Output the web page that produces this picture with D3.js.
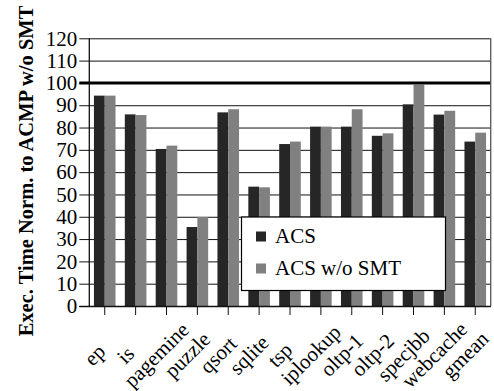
<!DOCTYPE html>
<html>
<head>
<meta charset="utf-8">
<script src="https://cdn.jsdelivr.net/npm/d3@7"></script>
<style>
html,body{margin:0;padding:0;background:#fff;}
svg{display:block;}
text{font-family:"Liberation Serif","Times New Roman",serif;fill:#000;}
</style>
</head>
<body>
<svg id="chart" width="494" height="391"></svg>
<script>
const categories = ["ep","is","pagemine","puzzle","qsort","sqlite","tsp","iplookup","oltp-1","oltp-2","specjbb","webcache","gmean"];
const seriesNames = ["ACS","ACS w/o SMT"];
const acs     = [94.3, 85.9, 70.4, 35.4, 86.8, 53.5, 72.6, 80.4, 80.4, 76.3, 90.4, 85.8, 73.7];
const acsNoSmt = [94.3, 85.6, 71.9, 39.9, 88.2, 53.2, 73.7, 80.4, 88.2, 77.4, 99.2, 87.5, 77.7];
const yTicks = [0,10,20,30,40,50,60,70,80,90,100,110,120];
const colors = ["#262626","#808080"];

const svg = d3.select("#chart");
const pL = 89.3, pR = 490.7, pT = 38.3, pB = 306;

const x0 = d3.scaleBand().domain(categories).range([pL, pR]).padding(0);
const x1 = d3.scaleBand().domain(seriesNames).range([0, x0.bandwidth()]).paddingInner(0).paddingOuter(0.43);
const y = d3.scaleLinear().domain([0,120]).range([pB, pT]);

// gridlines + y ticks (extend left as tick marks)
const yAxis = d3.axisLeft(y).tickValues(yTicks).tickSize(-(pR - pL)).tickSizeOuter(0).tickPadding(12).tickFormat(d3.format("d"));
const gy = svg.append("g").attr("transform", `translate(${pL},0)`).call(yAxis);
gy.select(".domain").remove();
gy.selectAll(".tick line").attr("x1", -10).attr("stroke", "#111").attr("stroke-width", 1);
gy.selectAll(".tick text").style("font-size", "21px").attr("fill", "#000");

// bars
const groups = svg.append("g").selectAll("g").data(categories).join("g")
  .attr("transform", d => `translate(${x0(d)},0)`);
groups.selectAll("rect").data((d, i) => [
  {s: seriesNames[0], v: acs[i]},
  {s: seriesNames[1], v: acsNoSmt[i]}
]).join("rect")
  .attr("x", d => x1(d.s))
  .attr("width", x1.bandwidth())
  .attr("y", d => y(d.v))
  .attr("height", d => y(0) - y(d.v))
  .attr("fill", (d, j) => colors[j]);

// 100 reference line
svg.append("line").attr("x1", pL - 10).attr("x2", pR).attr("y1", y(100)).attr("y2", y(100))
  .attr("stroke", "#000").attr("stroke-width", 3);

// frame: left axis, right border
svg.append("line").attr("x1", pL).attr("x2", pL).attr("y1", pT).attr("y2", pB).attr("stroke", "#111").attr("stroke-width", 1.3);
svg.append("line").attr("x1", pR).attr("x2", pR).attr("y1", pT).attr("y2", pB).attr("stroke", "#555").attr("stroke-width", 1.3);

// x axis
const xAxis = d3.axisBottom(x0).tickSize(9).tickSizeOuter(0).tickFormat("");
const gx = svg.append("g").attr("transform", `translate(0,${pB})`).call(xAxis);
gx.select(".domain").attr("stroke", "#111").attr("stroke-width", 1.3).attr("d", `M${pL - 10},0.5H${pR}`);
gx.selectAll(".tick line").attr("stroke", "#111");

// x labels rotated
svg.append("g").selectAll("text").data(categories).join("text")
  .attr("transform", d => `translate(${x0(d) + x0.bandwidth()/2 - 10},355) rotate(-45)`)
  .attr("text-anchor", "middle")
  .attr("dominant-baseline", "central")
  .style("font-size", "21px")
  .text(d => d);

// y axis title
svg.append("text")
  .attr("transform", "translate(33,171) rotate(-90)")
  .attr("text-anchor", "middle")
  .style("font-size", "20.5px")
  .style("font-weight", "bold")
  .text("Exec. Time Norm. to ACMP w/o SMT");

// legend
const lg = svg.append("g");
lg.append("rect").attr("x", 241.5).attr("y", 217).attr("width", 204).attr("height", 73.5)
  .attr("fill", "#fff").attr("stroke", "#000").attr("stroke-width", 1.2);
seriesNames.forEach((s, i) => {
  const cy = 236.5 + i * 32;
  lg.append("rect").attr("x", 256).attr("y", cy - 5).attr("width", 10).attr("height", 10).attr("fill", colors[i]);
  lg.append("text").attr("x", 275).attr("y", cy + 6.5).style("font-size", "21px").text(s);
});
</script>
</body>
</html>
